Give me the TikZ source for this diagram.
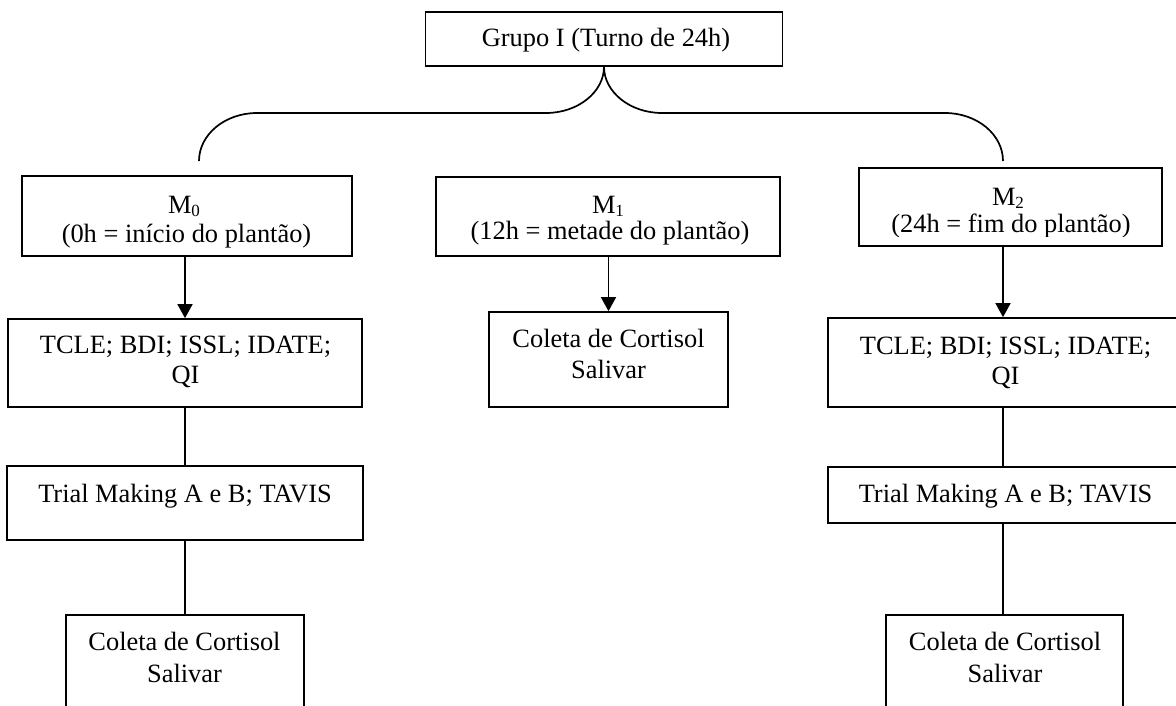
\documentclass[tikz,border=0pt]{standalone}
\usepackage{fontspec}
\setmainfont{Liberation Serif}
\usetikzlibrary{arrows.meta}
\newcommand{\sbs}[1]{\raisebox{-0.25ex}{\fontsize{17}{17}\selectfont #1}}
\begin{document}
\begin{tikzpicture}[x=1pt,y=-1pt,
  box/.style={draw, line width=1.7pt, rectangle, inner sep=0pt},
  txt/.style={anchor=base, inner sep=0pt, font=\fontsize{26.4}{30.5}\selectfont},
  conn/.style={line width=1.7pt},
  arr/.style={line width=1.7pt, -{Triangle[width=15pt,length=14pt]}}]
\path[use as bounding box] (0,0) rectangle (1176,706);
\clip (0,0) rectangle (1176,706);
\fill[white] (0,0) rectangle (1176,706);

% top box
\node[box, minimum width=357pt, minimum height=54pt] (g) at (604,39) {};
\node[txt] (gt) at (606,47) {Grupo I (Turno de 24h)};

% brace
\coordinate (bl) at (199,161);
\coordinate (br) at (1003,161);
\draw[conn] (bl) .. controls (199,134.5) and (225,113) .. (257,113) -- (546,113)
  .. controls (578,113) and (604,92) .. (g.south)
  .. controls (604,92) and (630,113) .. (662,113) -- (945,113)
  .. controls (977,113) and (1003,134.5) .. (br);

% left column
\node[box, minimum width=330pt, minimum height=80pt] (m0) at (187,216) {};
\node[txt] (m0a) at (184,213) {M\sbs{0}};
\node[txt] (m0b) at (186.5,242) {(0h = início do plantão)};

\node[box, minimum width=354pt, minimum height=88pt] (tl) at (185,363) {};
\node[txt] (tla) at (185.5,353) {TCLE; BDI; ISSL; IDATE;};
\node[txt] (tlb) at (185.5,383) {QI};

\node[box, minimum width=356pt, minimum height=74pt] (rl) at (185,503) {};
\node[txt] (rla) at (185,502) {Trial Making A e B; TAVIS};

\node[box, minimum width=238pt, minimum height=115pt] (cl) at (185,672.5) {};
\node[txt] (cla) at (184.5,650) {Coleta de Cortisol};
\node[txt] (clb) at (184.5,682) {Salivar};

\draw[arr] (tl.north |- m0.south) -- (tl.north);
\draw[conn] (tl.south) -- (rl.north);
\draw[conn] (rl.south) -- (cl.north);

% middle column
\node[box, minimum width=344pt, minimum height=79pt] (m1) at (608,216.5) {};
\node[txt] (m1a) at (608,213) {M\sbs{1}};
\node[txt] (m1b) at (610,240) {(12h = metade do plantão)};

\node[box, minimum width=239pt, minimum height=95pt] (cm) at (608.5,359.5) {};
\node[txt] (cma) at (608.5,347) {Coleta de Cortisol};
\node[txt] (cmb) at (608.5,378) {Salivar};

\draw[arr] (cm.north |- m1.south) -- (cm.north);

% right column
\node[box, minimum width=303pt, minimum height=78pt] (m2) at (1010.5,207) {};
\node[txt] (m2a) at (1008,205) {M\sbs{2}};
\begin{scope}
\clip (859,168) rectangle (1162,236);
\node[txt] (m2b) at (1011,232) {(24h = fim do plantão)};
\end{scope}

\node[box, minimum width=350pt, minimum height=89pt] (tr) at (1003,362.5) {};
\node[txt] (tra) at (1005.5,354) {TCLE; BDI; ISSL; IDATE;};
\node[txt] (trb) at (1005.5,384) {QI};

\node[box, minimum width=350pt, minimum height=56pt] (rr) at (1003,495) {};
\node[txt] (rra) at (1005.5,502) {Trial Making A e B; TAVIS};

\node[box, minimum width=237pt, minimum height=115pt] (cr) at (1004.5,672.5) {};
\node[txt] (cra) at (1005,650) {Coleta de Cortisol};
\node[txt] (crb) at (1005,682) {Salivar};

\draw[arr] (tr.north |- m2.south) -- (tr.north);
\draw[conn] (tr.south) -- (rr.north);
\draw[conn] (rr.south) -- (cr.north -| rr.south);
\end{tikzpicture}
\end{document}
